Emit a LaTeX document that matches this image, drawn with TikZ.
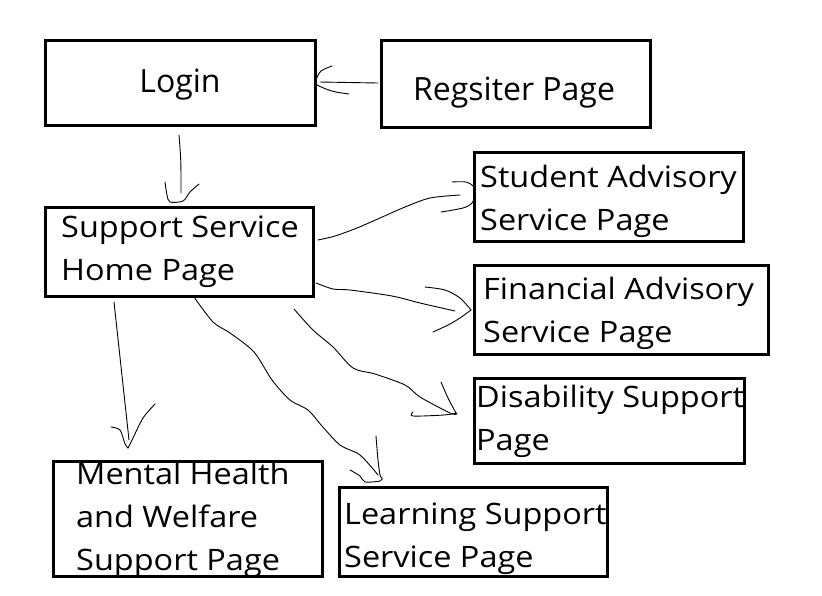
\documentclass[tikz,border=0pt]{standalone}
\usepackage{fontspec}
\setmainfont{Open Sans}
\newfontfamily\widefont{Open Sans}[FakeStretch=1.10]
\begin{document}
\begin{tikzpicture}[x=1pt,y=-1pt,
  box/.style={draw=black,line width=3pt,rectangle,inner sep=0pt},
  lbl/.style={inner sep=0pt,align=left,font=\widefont\fontsize{29.5}{43}\selectfont},
  toplbl/.style={inner sep=0pt,font=\fontsize{32}{43}\selectfont},
  hand/.style={draw=black,line width=0.9pt,line cap=round,line join=round}]
\fill[white] (0,0) rectangle (822,595);
\useasboundingbox (0,0) rectangle (822,595);
% boxes
\node[box,minimum width=270,minimum height=85] (login) at (180,82.5) {};
\node[box,minimum width=269,minimum height=87] (reg) at (515.5,83.5) {};
\node[box,minimum width=268,minimum height=89] (home) at (179,251.5) {};
\node[box,minimum width=269,minimum height=89] (student) at (608.5,196.5) {};
\node[box,minimum width=294,minimum height=89] (financial) at (621,309.5) {};
\node[box,minimum width=270,minimum height=85] (disability) at (609,420.5) {};
\node[box,minimum width=269,minimum height=115] (mental) at (187.5,518.5) {};
\node[box,minimum width=268,minimum height=89] (learning) at (473,531.5) {};
% texts
\node[toplbl] (tlogin) at (180,85) {Login};
\node[toplbl,anchor=west] (treg) at (413,93) {Regsiter Page};
\node[lbl,anchor=west] (thome) at (61,252) {Support Service\\Home Page};
\node[lbl,anchor=west] (tstudent) at (480,201) {Student Advisory\\Service Page};
\node[lbl,anchor=west] (tfinancial) at (483,313) {Financial Advisory\\Service Page};
\node[lbl,anchor=west] (tdisability) at (476,421) {Disability Support\\Page};
\node[lbl,anchor=west] (tmental) at (76,520) {Mental Health\\and Welfare\\Support Page};
\node[lbl,anchor=west] (tlearning) at (344,539) {Learning Support\\Service Page};
% connectors (hand drawn)
% login -> home
\draw[hand] (179,135) .. controls (181,160) .. (181,193);
\draw[hand] plot[smooth] coordinates {(165,182) (167,195) (170,202) (183,201) (190,192) (199,184)};
% register -> login
\draw[hand] (378,83) -- (320,82);
\draw[hand] plot[smooth] coordinates {(332,66) (321,71) (316,80) (317,85)};
\draw[hand] plot[smooth] coordinates {(317,85) (326,89) (336,92) (349,94)};
% home -> student
\draw[hand] plot[smooth] coordinates {(318,240) (335,236) (357,228) (380,218) (405,207) (430,198) (460,195)};
\draw[hand] plot[smooth] coordinates {(452,182) (466,182) (474,187) (475,195) (472,203) (463,208) (441,212)};
% home -> financial
\draw[hand] plot[smooth] coordinates {(316,283) (333,289) (350,290) (392,296) (420,303) (455,311)};
\draw[hand] plot[smooth] coordinates {(425,287) (445,290) (460,298) (471,310)};
\draw[hand] plot[smooth] coordinates {(471,310) (460,318) (448,325) (433,332)};
% home -> disability
\draw[hand] plot[smooth] coordinates {(294,309) (313,330) (333,347) (353,368) (375,374) (405,385) (420,397) (450,413) (457,414)};
\draw[hand] plot[smooth] coordinates {(441,382) (448,398) (456,413)};
\draw[hand] plot[smooth] coordinates {(413,412) (413,416) (444,415) (457,413)};
% home -> mental
\draw[hand] (114,302) -- (129,440);
\draw[hand] plot[smooth] coordinates {(111,427) (120,430) (125,444) (128,448)};
\draw[hand] plot[smooth] coordinates {(128,448) (133,438) (143,418) (155,404)};
% home -> learning
\draw[hand] plot[smooth] coordinates {(194,297) (213,322) (230,333) (254,352) (272,380) (290,400) (308,410) (322,426) (340,445) (360,455) (378,475)};
\draw[hand] plot[smooth] coordinates {(376,436) (378,460) (380,475) (382,478)};
\draw[hand] plot[smooth] coordinates {(350,470) (360,476) (365,482) (380,481) (382,478)};
\end{tikzpicture}
\end{document}
